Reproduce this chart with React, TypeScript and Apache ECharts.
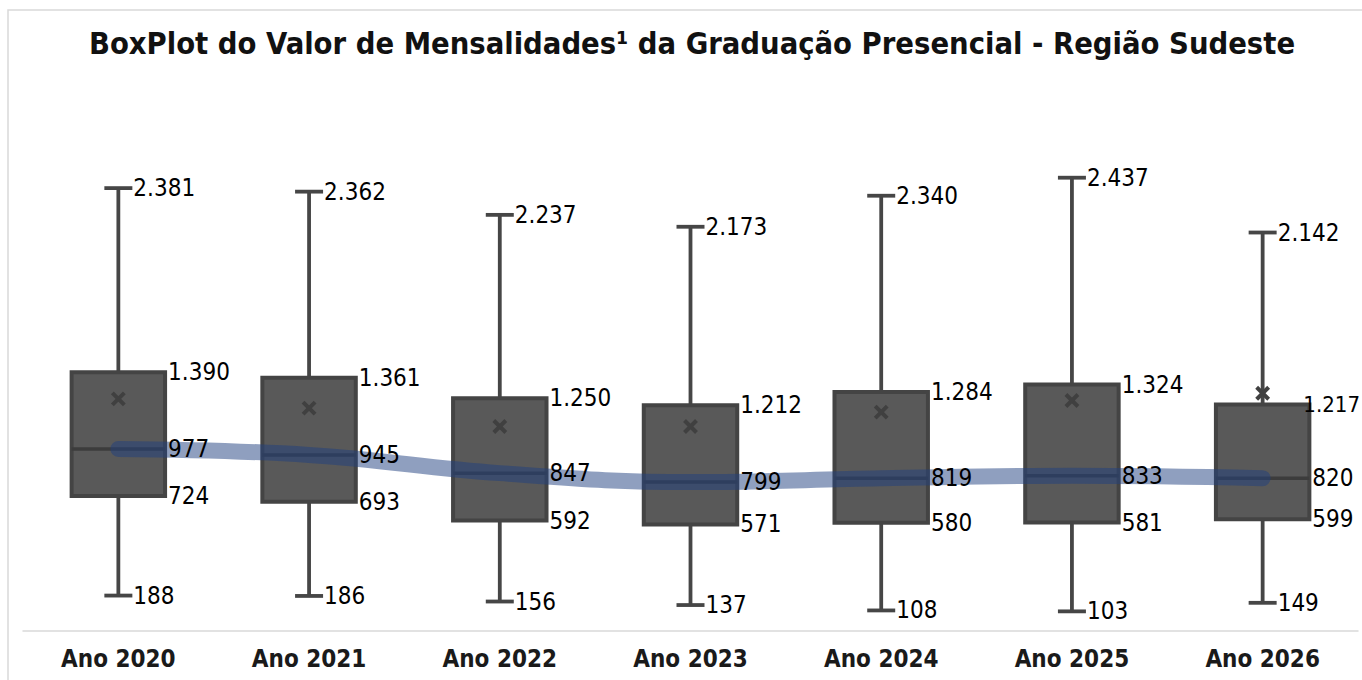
import React, { useEffect, useRef } from "react";
import * as echarts from "echarts";

const titleText = "BoxPlot do Valor de Mensalidades¹ da Graduação Presencial - Região Sudeste";
const categories = ["Ano 2020", "Ano 2021", "Ano 2022", "Ano 2023", "Ano 2024", "Ano 2025", "Ano 2026"];
const minValues = [188, 186, 156, 137, 108, 103, 149];
const q1Values = [724, 693, 592, 571, 580, 581, 599];
const medianValues = [977, 945, 847, 799, 819, 833, 820];
const q3Values = [1390, 1361, 1250, 1212, 1284, 1324, 1217];
const maxValues = [2381, 2362, 2237, 2173, 2340, 2437, 2142];
const meanValues = [1247, 1197, 1098, 1098, 1175, 1238, 1277];

const FONT = "'DejaVu Sans Condensed', 'DejaVu Sans', sans-serif";
const PAGE_W = 1362;

function fmt(v: number): string {
  const s = Math.round(v).toString();
  return s.replace(/\B(?=(\d{3})+(?!\d))/g, ".");
}

// approximate advance width of a formatted number in DejaVu Sans Condensed
function estWidth(text: string, size: number): number {
  let em = 0;
  for (const ch of text) em += ch === "." ? 0.286 : 0.572;
  return em * size;
}

export default function App() {
  const ref = useRef<HTMLDivElement>(null);
  useEffect(() => {
    if (!ref.current) return;
    const chart = echarts.init(ref.current, null, { renderer: "svg" });
    const data = categories.map((_, i) => [
      i,
      minValues[i],
      q1Values[i],
      medianValues[i],
      q3Values[i],
      maxValues[i],
      meanValues[i],
    ]);

    const geom = (api: any) => {
      const idx = api.value(0);
      const band = api.size([1, 0])[0];
      const half = (band * 0.49) / 2;
      const x = api.coord([idx, 0])[0];
      const y = (v: number) => api.coord([idx, v])[1];
      return {
        x,
        half,
        yMin: y(api.value(1)),
        yQ1: y(api.value(2)),
        yMed: y(api.value(3)),
        yQ3: y(api.value(4)),
        yMax: y(api.value(5)),
        yMean: y(api.value(6)),
      };
    };

    const stroke = "#464646";
    const option: any = {
      animation: false,
      backgroundColor: "#ffffff",
      grid: { left: 23, right: 4, top: 166, bottom: 49.5, containLabel: false },
      xAxis: {
        type: "category",
        data: categories,
        boundaryGap: true,
        axisLine: { show: true, lineStyle: { color: "#d9d9d9", width: 1.5 } },
        axisTick: { show: false },
        axisLabel: {
          fontFamily: FONT,
          fontWeight: "bold",
          fontSize: 24,
          color: "#1a1a1a",
          margin: 16,
        },
        splitLine: { show: false },
      },
      yAxis: { type: "value", min: 0, max: 2500, show: false, splitLine: { show: false } },
      graphic: [
        {
          type: "rect",
          shape: { x: 8, y: 10, width: 1400, height: 700 },
          style: { fill: "none", stroke: "#d9d9d9", lineWidth: 1.5 },
          silent: true,
          z: -10,
        },
        {
          type: "text",
          x: 692,
          y: 43,
          style: {
            text: titleText,
            align: "center",
            verticalAlign: "middle",
            fontFamily: FONT,
            fontWeight: "bold",
            fontSize: 30.6,
            fill: "#111111",
          },
        },
      ],
      series: [
        {
          type: "custom",
          z: 2,
          data,
          encode: { x: 0, y: [1, 2, 3, 4, 5, 6] },
          renderItem: (params: any, api: any) => {
            const g = geom(api);
            const { x, half } = g;
            const cap = 14;
            const ls = { stroke, lineWidth: 3.8 };
            const m = 6;
            return {
              type: "group",
              children: [
                { type: "line", shape: { x1: x, y1: g.yMax, x2: x, y2: g.yQ3 }, style: ls },
                { type: "line", shape: { x1: x, y1: g.yQ1, x2: x, y2: g.yMin }, style: ls },
                { type: "line", shape: { x1: x - cap, y1: g.yMax, x2: x + cap, y2: g.yMax }, style: ls },
                { type: "line", shape: { x1: x - cap, y1: g.yMin, x2: x + cap, y2: g.yMin }, style: ls },
                {
                  type: "rect",
                  shape: { x: x - half, y: g.yQ3, width: half * 2, height: g.yQ1 - g.yQ3 },
                  style: { fill: "#595959", stroke: "#444444", lineWidth: 4 },
                },
                {
                  type: "line",
                  shape: { x1: x - half, y1: g.yMed, x2: x + half, y2: g.yMed },
                  style: { stroke: "#3c3c3c", lineWidth: 3.5 },
                },
                {
                  type: "line",
                  shape: { x1: x - m, y1: g.yMean - m, x2: x + m, y2: g.yMean + m },
                  style: { stroke: "#404040", lineWidth: 4 },
                },
                {
                  type: "line",
                  shape: { x1: x - m, y1: g.yMean + m, x2: x + m, y2: g.yMean - m },
                  style: { stroke: "#404040", lineWidth: 4 },
                },
              ],
            };
          },
        },
        {
          type: "line",
          z: 3,
          data: medianValues,
          smooth: 0.4,
          symbol: "none",
          lineStyle: { width: 16, color: "#203F80", opacity: 0.5, cap: "round" },
        },
        {
          type: "custom",
          z: 4,
          data,
          encode: { x: 0, y: [1, 2, 3, 4, 5] },
          renderItem: (params: any, api: any) => {
            const g = geom(api);
            const { x, half } = g;
            const limit = PAGE_W - 2;
            const t = (text: string, tx0: number, ty: number) => {
              let size = 24;
              let tx = tx0;
              let w = estWidth(text, size);
              if (tx + w > limit) {
                size = 22;
                w = estWidth(text, size);
                tx = Math.min(tx, limit - w);
              }
              return {
                type: "text",
                x: tx,
                y: ty,
                style: {
                  text,
                  align: "left",
                  verticalAlign: "middle",
                  fontFamily: FONT,
                  fontSize: size,
                  fill: "#000000",
                },
              };
            };
            return {
              type: "group",
              children: [
                t(fmt(api.value(5)), x + 15, g.yMax),
                t(fmt(api.value(4)), x + half + 3, g.yQ3),
                t(fmt(api.value(3)), x + half + 3, g.yMed),
                t(fmt(api.value(2)), x + half + 3, g.yQ1),
                t(fmt(api.value(1)), x + 15, g.yMin),
              ],
            };
          },
        },
      ],
    };
    chart.setOption(option);
    return () => chart.dispose();
  }, []);
  return (
    <div
      ref={ref}
      style={{ position: "absolute", left: 0, top: 0, width: 1362, height: 680 }}
    />
  );
}
